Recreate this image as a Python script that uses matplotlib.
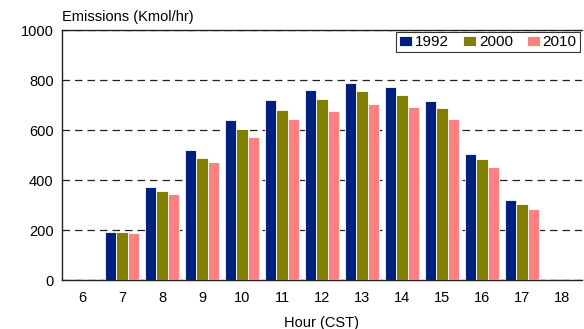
import matplotlib
matplotlib.use('Agg')
import matplotlib.pyplot as plt
import numpy as np

plt.rcParams['font.family'] = ['Liberation Sans', 'DejaVu Sans']

# hourly emissions (Kmol/hr)
hours = [6, 7, 8, 9, 10, 11, 12, 13, 14, 15, 16, 17, 18]
em_1992 = [0, 192, 372, 520, 640, 720, 760, 788, 772, 716, 504, 320, 0]
em_2000 = [0, 192, 356, 488, 604, 680, 724, 756, 740, 688, 484, 304, 0]
em_2010 = [0, 188, 344, 472, 572, 644, 676, 704, 692, 644, 452, 284, 0]
years = ['1992', '2000', '2010']
colors = ['#00207f', '#808000', '#ff8080']

fig = plt.figure(figsize=(5.84, 3.29), dpi=100)
ax = fig.add_axes([62 / 584, 49 / 329, 520 / 584, 250 / 329])

x = np.array(hours)
w = 0.285
for i, (vals, lab, c) in enumerate(zip([em_1992, em_2000, em_2010], years, colors)):
    ax.bar(x + (i - 1) * w, vals, width=w, color=c, edgecolor='white',
           linewidth=0.6, label=lab, zorder=3)

ax.set_xlim(5.5, 18.5)
ax.set_ylim(0, 1000)
ax.set_xticks(hours)
ax.set_yticks(range(0, 1001, 200))
ax.tick_params(length=0, labelsize=10.5, pad=8)
ax.tick_params(axis='y', pad=6)
ax.yaxis.grid(True, linestyle=(0, (6, 4)), color='#222222', linewidth=0.9, zorder=1)

ax.spines['right'].set_visible(False)
for s in ['left', 'top', 'bottom']:
    ax.spines[s].set_color('#222222')
    ax.spines[s].set_linewidth(1.0)

ax.set_xlabel('Hour (CST)', fontsize=10.5, labelpad=8)
fig.text(62 / 584, 1 - 17 / 329, 'Emissions (Kmol/hr)', fontsize=10.5,
         ha='left', va='center')

leg = ax.legend(loc='upper right', ncol=3, fontsize=11, frameon=True,
                fancybox=False, edgecolor='black', handlelength=0.85,
                handleheight=0.55, handletextpad=0.2, columnspacing=0.9,
                borderpad=0.2, borderaxespad=0.15)
leg.get_frame().set_linewidth(0.8)

fig.savefig('out.png', dpi=100)
